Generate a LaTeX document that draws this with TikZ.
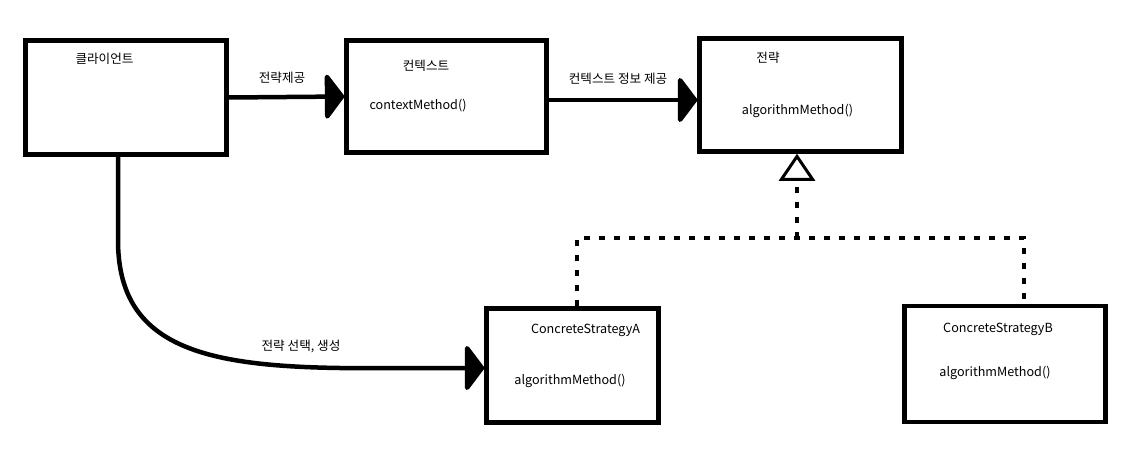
\documentclass[tikz,border=0pt]{standalone}
\usepackage{fontspec}
\setmainfont{Noto Sans CJK KR}
\usetikzlibrary{arrows.meta}

\tikzset{
  classbox/.style={draw, line width=4.5pt, rectangle, inner sep=0pt},
  txt/.style={font=\fontsize{12.6}{14}\selectfont, inner sep=0pt},
  assoc/.style={line width=4.5pt, -{Triangle[length=20pt,width=52pt,round]}},
  impl/.style={line width=4.5pt, dash pattern=on 6pt off 9pt}
}

\begin{document}
\begin{tikzpicture}[x=1pt, y=-1pt]
        \useasboundingbox (0,0) rectangle (1142,471);

        % Boxes
        \node[classbox, minimum width=201pt, minimum height=114pt] (client) at (126,97.5) {};
        \node[classbox, minimum width=200pt, minimum height=112pt] (context) at (446.5,96.5) {};
        \node[classbox, minimum width=202pt, minimum height=113pt] (strategy) at (800.5,95) {};
        \node[classbox, minimum width=172pt, minimum height=114pt] (csA) at (572.5,365.5) {};
        \node[classbox, minimum width=201pt, minimum height=116pt] (csB) at (1005,364) {};

        % Texts
        \node[txt] (clientT) at (104.5,59) {클라이언트};
        \node[txt] (contextT) at (426,66) {컨텍스트};
        \node[txt] (contextM) at (418,106) {contextMethod()};
        \node[txt] (strategyT) at (768,58) {전략};
        \node[txt] (strategyM) at (797.5,111) {algorithmMethod()};
        \node[txt] (csAT) at (585.5,330) {ConcreteStrategyA};
        \node[txt] (csAM) at (570,381) {algorithmMethod()};
        \node[txt] (csBT) at (998,329) {ConcreteStrategyB};
        \node[txt] (csBM) at (995,372.5) {algorithmMethod()};

        % Arrows
        \draw[assoc] (client.east) -- (context.west);
        \draw[assoc] ([yshift=-3.5pt]context.east) -- ([yshift=-3.5pt]context.east -| strategy.west);
        \coordinate (bend) at (118,240);
        \coordinate (flat) at (340,368);
        \draw[assoc] ([xshift=-8pt]client.south) -- (bend)
            .. controls (118,345) and (200,366) .. (flat) -- (flat -| csA.west);

        % Realization
        \coordinate (join) at (797,238);
        \draw[impl] ([xshift=4.5pt]csA.north) |- (join) -| ([xshift=19pt]csB.north);
        \draw[impl, -{Triangle[open,length=27pt,width=36pt,line width=3pt]}]
            (join) -- ([xshift=-3.5pt]strategy.south);

        % Labels
        \node[txt] (giveT) at (282,77.5) {전략제공};
        \node[txt] (infoT) at (618,78.5) {컨텍스트 정보 제공};
        \node[txt] (makeT) at (301,346) {전략 선택, 생성};
    \end{tikzpicture}
\end{document}
